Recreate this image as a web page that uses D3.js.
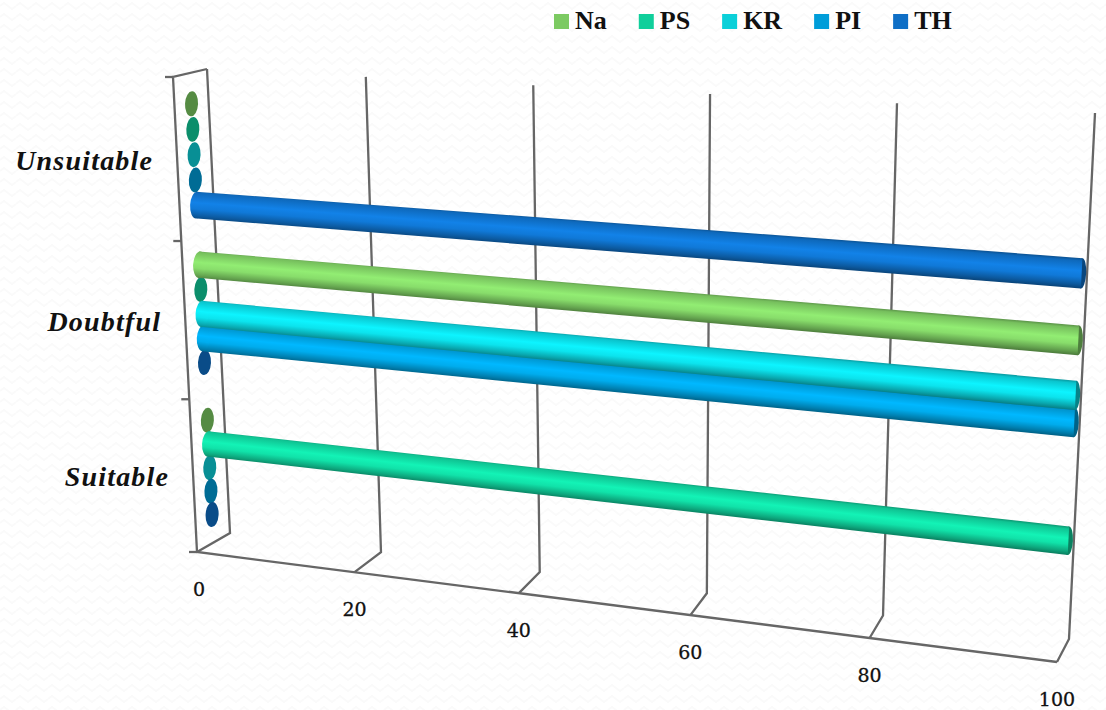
<!DOCTYPE html>
<html>
<head>
<meta charset="utf-8">
<script src="https://d3js.org/d3.v7.min.js"></script>
<style>
  html, body { margin: 0; padding: 0; background: #fff; }
  svg { display: block; }
  .cat { font: italic bold 28px "Liberation Serif", serif; letter-spacing: 1.2px; fill: #111; text-anchor: end; }
  .val { font: 19px "DejaVu Serif", serif; fill: #111; stroke: #111; stroke-width: 0.3px; text-anchor: middle; }
  .leg { font: bold 26px "Liberation Serif", serif; fill: #111; }
</style>
</head>
<body>
<div id="chart"></div>
<script>
var svgWidth = 1106;
var svgHeight = 710;

// data
var categories = ["Unsuitable", "Doubtful", "Suitable"];
var seriesNames = ["Na", "PS", "KR", "PI", "TH"];
var seriesColors = ["#7CCA62", "#10CF9B", "#0BD0D9", "#009DD9", "#0F6FC6"];
var naValues = [0, 100, 0];
var psValues = [0, 0, 100];
var krValues = [0, 100, 0];
var piValues = [0, 100, 0];
var thValues = [100, 0, 0];
var tickValues = [0, 20, 40, 60, 80, 100];

var seriesValues = [naValues, psValues, krValues, piValues, thValues];

// corners of the 3d box as drawn: top left, top right, bottom right, bottom left
var frontPlane = [[173, 77], [1083, 136], [1057, 662], [197, 552]];
var backPlane = [[207, 69], [1095, 113], [1069, 639], [230, 533]];

// unit square -> quad
function homography(q) {
  var dx1 = q[1][0] - q[2][0], dx2 = q[3][0] - q[2][0], sx = q[0][0] - q[1][0] + q[2][0] - q[3][0];
  var dy1 = q[1][1] - q[2][1], dy2 = q[3][1] - q[2][1], sy = q[0][1] - q[1][1] + q[2][1] - q[3][1];
  var det = dx1 * dy2 - dx2 * dy1;
  var g = (sx * dy2 - dx2 * sy) / det;
  var h = (dx1 * sy - sx * dy1) / det;
  var a = q[1][0] - q[0][0] + g * q[1][0], b = q[3][0] - q[0][0] + h * q[3][0], c = q[0][0];
  var d = q[1][1] - q[0][1] + g * q[1][1], e = q[3][1] - q[0][1] + h * q[3][1], f = q[0][1];
  return function(u, v) {
    var w = g * u + h * v + 1;
    return [(a * u + b * v + c) / w, (d * u + e * v + f) / w];
  };
}

var frontH = homography(frontPlane);
var backH = homography(backPlane);

var xScale = d3.scaleLinear().domain([0, 100]).range([0, 1]);
var yScale = d3.scaleBand().domain(categories).range([0, 1]);
var seriesScale = d3.scaleBand().domain(seriesNames).range([0, yScale.bandwidth()]).paddingInner(0).paddingOuter(0.7);

// value, height fraction from the top, depth (0 front, 1 back)
function project(value, t, depth) {
  var u = xScale(value);
  var a = frontH(u, t), b = backH(u, t);
  return [a[0] + (b[0] - a[0]) * depth, a[1] + (b[1] - a[1]) * depth];
}

var svg = d3.select("#chart").append("svg")
  .attr("width", svgWidth)
  .attr("height", svgHeight);

var defs = svg.append("defs");

// faint wavy paper behind the chart
var paper = defs.append("pattern")
  .attr("id", "paper")
  .attr("patternUnits", "userSpaceOnUse")
  .attr("width", 16).attr("height", 11);
paper.append("path")
  .attr("d", "M0 6 L4 3 L8 6 L12 9 L16 6")
  .attr("fill", "none").attr("stroke", "#fafafa").attr("stroke-width", 2);

svg.append("rect").attr("width", svgWidth).attr("height", svgHeight).attr("fill", "#fff");
svg.append("rect").attr("width", svgWidth).attr("height", svgHeight).attr("fill", "url(#paper)");

// walls and floor lines
var grid = svg.append("g")
  .attr("fill", "none")
  .attr("stroke", "#666")
  .attr("stroke-width", 2.3);

var line = d3.line();

tickValues.forEach(function(v) {
  grid.append("path").attr("d", line([project(v, 1, 0), project(v, 1, 1), project(v, 0, 1)]));
});
grid.append("path").attr("d", line([project(0, 0, 1), project(0, 0, 0), project(0, 1, 0), project(100, 1, 0)]));

// category ticks on the left edge
d3.range(0, 4).forEach(function(i) {
  var p = project(0, i / 3, 0);
  grid.append("path").attr("d", line([[p[0] - 8, p[1]], p]));
});

var barDepth = 0.5;
var barRadius = 0.028; // half thickness as a fraction of the height
var capRx = 6.5;

function addStops(g, color) {
  var c = d3.color(color);
  [[0, c.darker(1.0)], [0.1, c.darker(0.15)], [0.42, c.brighter(0.45)], [0.62, c.brighter(0.25)], [0.85, c.darker(0.6)], [1, c.darker(1.5)]]
    .forEach(function(s) {
      g.append("stop").attr("offset", s[0]).attr("stop-color", s[1].formatHex());
    });
}

var cells = [];
categories.forEach(function(cat, i) {
  seriesNames.forEach(function(name, j) {
    cells.push({ cat: cat, series: name, color: seriesColors[j], value: seriesValues[j][i] });
  });
});

function centerT(d) {
  return yScale(d.cat) + seriesScale(d.series) + seriesScale.bandwidth() / 2;
}

// zero values are only the dark end of a cylinder
var zeros = cells.filter(function(d) { return d.value === 0; });
svg.append("g").selectAll("ellipse").data(zeros).enter().append("ellipse")
  .attr("cx", function(d) { return project(0, centerT(d), barDepth)[0]; })
  .attr("cy", function(d) { return project(0, centerT(d), barDepth)[1]; })
  .attr("rx", capRx)
  .attr("ry", 12.5)
  .attr("fill", function(d) { return d3.color(d.color).darker(1.05).formatHex(); })
  .attr("transform", function(d) {
    var p = project(0, centerT(d), barDepth);
    return "rotate(3 " + p[0] + " " + p[1] + ")";
  });

// full bars, lower ones first so the upper bar lies over its neighbour
var full = cells.filter(function(d) { return d.value > 0; }).reverse();
var barsG = svg.append("g");
full.forEach(function(d, i) {
  var t = centerT(d);
  var a0 = project(0, t - barRadius, barDepth);
  var a1 = project(0, t + barRadius, barDepth);
  var b0 = project(d.value, t - barRadius, barDepth);
  var b1 = project(d.value, t + barRadius, barDepth);
  var c0 = project(0, t, barDepth);
  var c1 = project(d.value, t, barDepth);

  // gradient runs square to the bar, measured at its middle
  var angle = Math.atan2(c1[1] - c0[1], c1[0] - c0[0]);
  var mx = (c0[0] + c1[0]) / 2, my = (c0[1] + c1[1]) / 2;
  var half = (Math.hypot(a1[0] - a0[0], a1[1] - a0[1]) + Math.hypot(b1[0] - b0[0], b1[1] - b0[1])) / 4;
  var nx = -Math.sin(angle), ny = Math.cos(angle);
  var id = "bar" + i;
  var grad = defs.append("linearGradient").attr("id", id)
    .attr("gradientUnits", "userSpaceOnUse")
    .attr("x1", mx - nx * half * 1.08).attr("y1", my - ny * half * 1.08)
    .attr("x2", mx + nx * half * 1.08).attr("y2", my + ny * half * 1.08);
  addStops(grad, d.color);

  var bar = barsG.append("g");
  var dark = d3.color(d.color).darker(1.3).formatHex();
  var rEnd = Math.hypot(b1[0] - b0[0], b1[1] - b0[1]) / 2;
  var rStart = Math.hypot(a1[0] - a0[0], a1[1] - a0[1]) / 2;

  // far end
  bar.append("ellipse")
    .attr("cx", c1[0]).attr("cy", c1[1])
    .attr("rx", 4.5).attr("ry", rEnd)
    .attr("fill", dark)
    .attr("transform", "rotate(3 " + c1[0] + " " + c1[1] + ")");
  // body
  bar.append("path")
    .attr("d", line([a0, b0, b1, a1]) + "Z")
    .attr("fill", "url(#" + id + ")");
  // near end
  bar.append("ellipse")
    .attr("cx", c0[0]).attr("cy", c0[1])
    .attr("rx", capRx).attr("ry", rStart)
    .attr("fill", "url(#" + id + ")")
    .attr("transform", "rotate(3 " + c0[0] + " " + c0[1] + ")");
});

// category labels
svg.append("g").selectAll("text").data(categories).enter().append("text")
  .attr("class", "cat")
  .attr("x", function(d) { return project(0, yScale(d) + yScale.bandwidth() / 2, 0)[0] - 24; })
  .attr("y", function(d) { return project(0, yScale(d) + yScale.bandwidth() / 2, 0)[1] + 10; })
  .text(function(d) { return d; });

// value labels
svg.append("g").selectAll("text").data(tickValues).enter().append("text")
  .attr("class", "val")
  .attr("x", function(d) { return project(d, 1, 0)[0] + (d === 0 ? 2 : 0); })
  .attr("y", function(d) { return project(d, 1, 0)[1] + 44; })
  .text(function(d) { return d; });

// legend, laid out from the text widths
var legendX = 554;
seriesNames.forEach(function(name, i) {
  var g = svg.append("g");
  g.append("rect")
    .attr("x", legendX).attr("y", 14)
    .attr("width", 15).attr("height", 15)
    .attr("fill", seriesColors[i]);
  var label = g.append("text")
    .attr("class", "leg")
    .attr("x", legendX + 21).attr("y", 29)
    .text(name);
  legendX += 21 + label.node().getComputedTextLength() + 32;
});
</script>
</body>
</html>
